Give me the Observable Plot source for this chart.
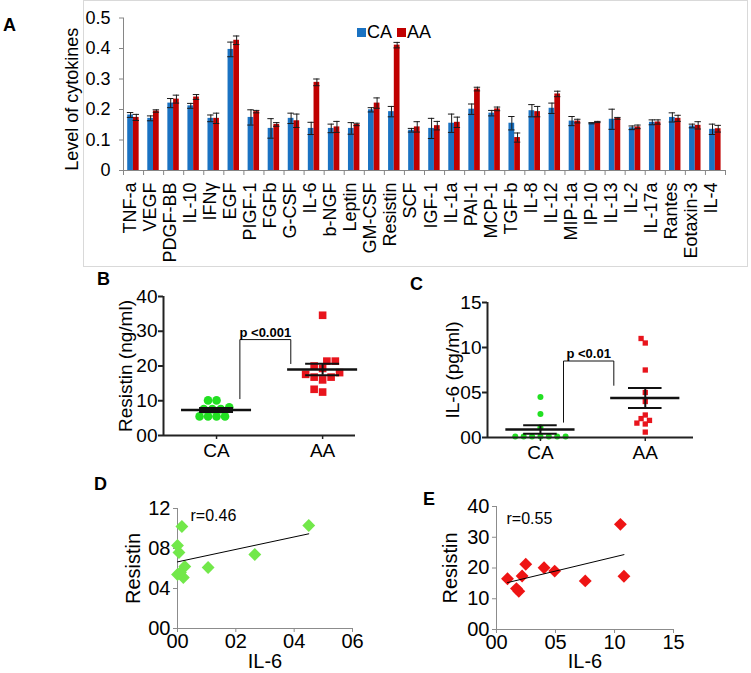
<!DOCTYPE html>
<html><head><meta charset="utf-8">
<script src="https://cdn.jsdelivr.net/npm/d3@7"></script>
<script src="https://cdn.jsdelivr.net/npm/@observablehq/plot@0.6"></script>
<style>
html,body{margin:0;padding:0;background:#fff;}
#root{position:relative;width:751px;height:673px;overflow:hidden;font-family:"Liberation Sans",Arial,sans-serif;color:#000;}
.panel{position:absolute;}
.plabel{position:absolute;font-weight:bold;font-size:18px;line-height:18px;}
#boxA{position:absolute;left:83px;top:0;width:665px;height:267px;border:1px solid #d9d9d9;box-sizing:border-box;}
#legend{position:absolute;left:357px;top:22px;display:flex;align-items:center;font-size:18px;line-height:20px;}
#legend .item{display:flex;align-items:center;margin-right:5px;}
#legend .sw{display:inline-block;width:9px;height:9px;margin-right:1px;}
</style></head>
<body><div id="root"><div id="boxA"></div></div>
<script>
// ---------- Panel A data ----------
const cytokines = ["TNF-a","VEGF","PDGF-BB","IL-10","IFNγ","EGF","PIGF-1","FGFb","G-CSF","IL-6","b-NGF","Leptin","GM-CSF","Resistin","SCF","IGF-1","IL-1a","PAI-1","MCP-1","TGF-b","IL-8","IL-12","MIP-1a","IP-10","IL-13","IL-2","IL-17a","Rantes","Eotaxin-3","IL-4"];
const series = ["CA","AA"];
const seriesColors = ["#1a72c2","#c00000"];
const caMean = [0.182,0.171,0.221,0.212,0.171,0.397,0.174,0.138,0.171,0.138,0.138,0.138,0.199,0.193,0.132,0.138,0.155,0.201,0.188,0.155,0.196,0.204,0.162,0.155,0.168,0.140,0.158,0.174,0.146,0.135];
const aaMean = [0.174,0.195,0.234,0.241,0.171,0.427,0.193,0.151,0.163,0.289,0.143,0.151,0.221,0.411,0.143,0.147,0.158,0.267,0.202,0.108,0.193,0.251,0.162,0.159,0.171,0.143,0.159,0.171,0.148,0.137];
const caErr = [0.008,0.008,0.015,0.008,0.011,0.024,0.025,0.032,0.017,0.020,0.014,0.019,0.007,0.017,0.006,0.033,0.030,0.017,0.009,0.022,0.020,0.017,0.015,0.002,0.033,0.006,0.008,0.015,0.006,0.017];
const aaErr = [0.010,0.004,0.013,0.008,0.017,0.014,0.004,0.006,0.022,0.011,0.018,0.004,0.017,0.009,0.017,0.014,0.017,0.006,0.006,0.015,0.017,0.009,0.006,0.002,0.003,0.006,0.007,0.010,0.012,0.011];
const yTicksA = [0,0.1,0.2,0.3,0.4,0.5];
const yLabelA = "Level of cytokines";

// ---------- Panel B / C data ----------
const groups = ["CA","AA"];
const groupColors = ["#22e022","#e8141c"];
const groupSymbols = ["circle","square"];
const resistinCA = [10.1,10.1,8.1,7.6,7.6,7.6,5.5,5.5,5.5,5.5];
const resistinAA = [34.6,21.4,21.4,20.0,19.3,18.1,17.6,16.8,16.8,16.0,13.3,12.5];
const il6CA = [4.5,2.6,1.1,0.1,0.1,0.1,0.1,0.1,0.1,0.1];
const il6AA = [11.0,10.5,7.5,5.0,4.0,2.5,2.1,1.9,1.6,1.5,0.6];
const yTicksB = [0,10,20,30,40];
const yTicksC = [0,5,10,15];
const bracketB = {label: "p <0.001", top: 27.6, left: 10.6, right: 20.7};
const bracketC = {label: "p <0.01", top: 8.5, left: 1.7, right: 5.8};

// ---------- Panel D / E data ----------
const dIL6 = [0.15,4.5,0.0,0.05,2.65,0.25,1.05,0.0,0.2,0.1];
const dResistin = [10.2,10.3,8.3,7.6,7.4,6.2,6.1,5.4,5.1,5.6];
const eIL6 = [0.93,1.69,1.89,2.17,2.48,4.03,4.93,7.52,10.5,10.8];
const eResistin = [16.5,13.3,12.4,17.4,21.2,20.1,19.0,15.8,34.2,17.3];
const xTicksD = [0,2,4,6], yTicksD = [0,4,8,12];
const xTicksE = [0,5,10,15], yTicksE = [0,10,20,30,40];
const rD = "r=0.46", rE = "r=0.55";

// ---------- helpers ----------
const FONT = "'Liberation Sans', Arial, sans-serif";
const root = document.getElementById("root");
function place(el, left, top) {
  el.classList.add("panel");
  el.style.left = left + "px"; el.style.top = top + "px";
  root.appendChild(el);
}
const pad2 = d => String(Math.round(d)).padStart(2, "0");

// ---------- Panel A ----------
(function () {
  const W = 751, H = 267, mL = 123, mR = 26, mT = 17.5, mB = 97;
  const ca = cytokines.map((c, i) => ({i, value: caMean[i], err: caErr[i]}));
  const aa = cytokines.map((c, i) => ({i, value: aaMean[i], err: aaErr[i]}));
  const caps = (arr, off) => arr.flatMap(d => [d.value - d.err, d.value + d.err].map(y => ({x: d.i + off, y})));
  const cCA = 0.3525, cAA = 0.6375;
  const gray = "#868686";
  const svg = Plot.plot({
    width: W, height: H, marginLeft: mL, marginRight: mR, marginTop: mT, marginBottom: mB,
    x: {domain: [0, cytokines.length]},
    y: {domain: [0, 0.5]},
    style: {fontFamily: FONT, fontSize: "18px", background: "none", color: "#000", overflow: "visible"},
    marks: [
      Plot.rect(ca, {x1: d => d.i + 0.21, x2: d => d.i + 0.495, y1: 0, y2: "value", fill: seriesColors[0]}),
      Plot.rect(aa, {x1: d => d.i + 0.495, x2: d => d.i + 0.78, y1: 0, y2: "value", fill: seriesColors[1]}),
      Plot.ruleX(ca, {x: d => d.i + cCA, y1: d => d.value - d.err, y2: d => d.value + d.err, stroke: "#1a1a1a"}),
      Plot.ruleX(aa, {x: d => d.i + cAA, y1: d => d.value - d.err, y2: d => d.value + d.err, stroke: "#1a1a1a"}),
      Plot.ruleY(caps(ca, cCA), {y: "y", x1: d => d.x - 0.16, x2: d => d.x + 0.16, stroke: "#1a1a1a"}),
      Plot.ruleY(caps(aa, cAA), {y: "y", x1: d => d.x - 0.16, x2: d => d.x + 0.16, stroke: "#1a1a1a"}),
      Plot.ruleY([0], {stroke: gray}),
      Plot.ruleX([0], {stroke: gray}),
      Plot.axisY({ticks: yTicksA, tickFormat: d => d === 0 ? "0" : d.toFixed(1), tickSize: 4, tickPadding: 9, stroke: gray, label: null, fontSize: 18}),
      Plot.axisX({ticks: d3.range(cytokines.length + 1), tickFormat: () => "", tickSize: 5, stroke: gray, label: null}),
      Plot.text(cytokines, {x: (d, i) => i + 0.5, text: d => d, frameAnchor: "bottom", rotate: -90, textAnchor: "end", dx: 2, dy: 12, fontSize: 18}),
      Plot.text([yLabelA], {text: d => d, frameAnchor: "left", rotate: -90, textAnchor: "middle", dx: -51, dy: 5, fontSize: 18})
    ]
  });
  place(svg, 0, 0);
  const lg = document.createElement("div");
  lg.id = "legend";
  series.forEach((s, k) => {
    const it = document.createElement("span"); it.className = "item";
    const sw = document.createElement("span"); sw.className = "sw"; sw.style.background = seriesColors[k];
    it.appendChild(sw); it.appendChild(document.createTextNode(s));
    lg.appendChild(it);
  });
  root.appendChild(lg);
})();

// ---------- column scatter (B, C) ----------
function swarm(values, center, step, kx, ky, diam) {
  const placed = [];
  const cands = [0];
  for (let k = 1; k < 30; k++) cands.push(-k * step / 2, k * step / 2);
  const order = d3.sort(values);
  for (const v of order) {
    for (const o of cands) {
      if (placed.every(q => ((o - q.o) * kx) ** 2 + ((v - q.v) * ky) ** 2 >= diam * diam * 0.8)) { placed.push({v, o}); break; }
    }
  }
  return placed.map(q => ({value: q.v, x: center + q.o}));
}

function columnPlot(o) {
  const kx = (o.W - o.mL - o.mR) / (o.xDomain[1] - o.xDomain[0]);
  const ky = (o.H - o.mT - o.mB) / (o.yDomain[1] - o.yDomain[0]);
  const pts = o.values.flatMap((vals, gi) => swarm(vals, gi + 1, 0.08, kx, ky, o.r * 2).map(p => ({...p, group: groups[gi]})));
  const stats = o.values.map((vals, gi) => {
    const m = d3.mean(vals), s = d3.deviation(vals) / Math.sqrt(vals.length);
    return {x: gi + 1, mean: m, lo: m - s, hi: m + s};
  });
  const semCaps = stats.flatMap(s => [{x: s.x, y: s.lo}, {x: s.x, y: s.hi}]);
  const b = o.bracket, bx1 = 1.22, bx2 = 1.70;
  const path = [{x: bx1, y: b.left}, {x: bx1, y: b.top}, {x: bx2, y: b.top}, {x: bx2, y: b.right}];
  const ax = "#222";
  return Plot.plot({
    width: o.W, height: o.H, marginLeft: o.mL, marginRight: o.mR, marginTop: o.mT, marginBottom: o.mB,
    x: {domain: o.xDomain}, y: {domain: o.yDomain},
    color: {domain: groups, range: groupColors},
    symbol: {domain: groups, range: groupSymbols},
    style: {fontFamily: FONT, fontSize: "19px", background: "none", color: "#000", overflow: "visible"},
    marks: [
      Plot.dot(pts, {x: "x", y: "value", r: o.r, fill: "group", symbol: "group"}),
      Plot.ruleY(stats, {y: "mean", x1: d => d.x - 0.33, x2: d => d.x + 0.33, stroke: "#111", strokeWidth: 2.5}),
      Plot.ruleX(stats, {x: "x", y1: "lo", y2: "hi", stroke: "#111", strokeWidth: 2}),
      Plot.ruleY(semCaps, {y: "y", x1: d => d.x - 0.16, x2: d => d.x + 0.16, stroke: "#111", strokeWidth: 2}),
      Plot.line(path, {x: "x", y: "y", stroke: "#111", strokeWidth: 1}),
      Plot.text([b.label], {text: d => d, x: () => (bx1 + bx2) / 2, y: () => b.top, lineAnchor: "bottom", dy: -3, fontWeight: "bold", fontSize: 13}),
      Plot.ruleX([o.xDomain[0]], {stroke: ax, strokeWidth: 2}),
      Plot.ruleY([o.yDomain[0]], {stroke: ax, strokeWidth: 2}),
      Plot.axisY({ticks: o.yTicks, tickFormat: pad2, tickSize: 5, tickPadding: 1, stroke: ax, strokeWidth: 2, label: null, fontSize: 19}),
      Plot.axisX({ticks: [1, 2], tickFormat: i => groups[i - 1], tickSize: 4, tickPadding: 4, stroke: ax, strokeWidth: 1.5, label: null, fontSize: 19}),
      Plot.text([o.ylabel], {text: d => d, frameAnchor: "left", rotate: -90, textAnchor: "middle", dx: o.labelDx, fontSize: 19})
    ]
  });
}

place(columnPlot({W: 275, H: 190, mL: 73, mR: 10, mT: 16, mB: 35, xDomain: [0.5, 2.31], yDomain: [0, 40],
  yTicks: yTicksB, values: [resistinCA, resistinAA], r: 4.3, bracket: bracketB, ylabel: "Resistin (ng/ml)", labelDx: -38}), 90, 280);
place(columnPlot({W: 320, H: 190, mL: 97, mR: 17, mT: 17, mB: 38, xDomain: [0.495, 2.46], yDomain: [0, 15],
  yTicks: yTicksC, values: [il6CA, il6AA], r: 3, bracket: bracketC, ylabel: "IL-6 (pg/ml)", labelDx: -35}), 390, 285);

// ---------- scatter (D, E) ----------
function scatterPlot(o) {
  const pts = o.x.map((x, i) => ({x, y: o.y[i]}));
  const gray = "#8c8c8c";
  return Plot.plot({
    width: o.W, height: o.H, marginLeft: o.mL, marginRight: o.mR, marginTop: o.mT, marginBottom: o.mB,
    x: {domain: o.xDomain}, y: {domain: o.yDomain},
    style: {fontFamily: FONT, fontSize: "20px", background: "none", color: "#000", overflow: "visible"},
    marks: [
      Plot.ruleX([o.xDomain[0]], {stroke: gray}),
      Plot.ruleY([o.yDomain[0]], {stroke: gray}),
      Plot.axisX({ticks: o.xTicks, tickFormat: pad2, tickSize: 4, tickPadding: 1, stroke: gray, label: null, fontSize: 20}),
      Plot.axisY({ticks: o.yTicks, tickFormat: pad2, tickSize: 4, tickPadding: 3, stroke: gray, label: null, fontSize: 20}),
      Plot.dot(pts, {x: "x", y: "y", symbol: "diamond2", r: 5.8, fill: o.color}),
      Plot.linearRegressionY(pts, {x: "x", y: "y", ci: 0, stroke: "#000", strokeWidth: 1}),
      Plot.text([o.rText], {text: d => d, frameAnchor: "top-left", textAnchor: "start", lineAnchor: "top", dx: o.rDx, dy: o.rDy, fontSize: 16}),
      Plot.text(["Resistin"], {text: d => d, frameAnchor: "left", rotate: -90, textAnchor: "middle", dx: o.labelDx, fontSize: 20}),
      Plot.text(["IL-6"], {text: d => d, frameAnchor: "bottom", textAnchor: "middle", lineAnchor: "bottom", dy: o.xlabelDy, fontSize: 20})
    ]
  });
}
place(scatterPlot({W: 290, H: 178, mL: 87, mR: 28, mT: 13, mB: 45, xDomain: [0, 6], yDomain: [0, 12],
  xTicks: xTicksD, yTicks: yTicksD, x: dIL6, y: dResistin, color: "#72e84a", rText: rD, rDx: 13, rDy: 1, labelDx: -44, xlabelDy: 39}), 90, 495);
place(scatterPlot({W: 300, H: 178, mL: 96, mR: 27, mT: 11, mB: 44, xDomain: [0, 15], yDomain: [0, 40],
  xTicks: xTicksE, yTicks: yTicksE, x: eIL6, y: eResistin, color: "#ee1414", rText: rE, rDx: 10, rDy: 6, labelDx: -46, xlabelDy: 38}), 400, 495);

// ---------- panel letters ----------
[["A", 3, 16], ["B", 97, 270], ["C", 410, 275], ["D", 94, 475], ["E", 423, 490]].forEach(([t, x, y]) => {
  const d = document.createElement("div"); d.className = "plabel"; d.textContent = t;
  d.style.left = x + "px"; d.style.top = y + "px"; root.appendChild(d);
});
</script>
</body></html>
